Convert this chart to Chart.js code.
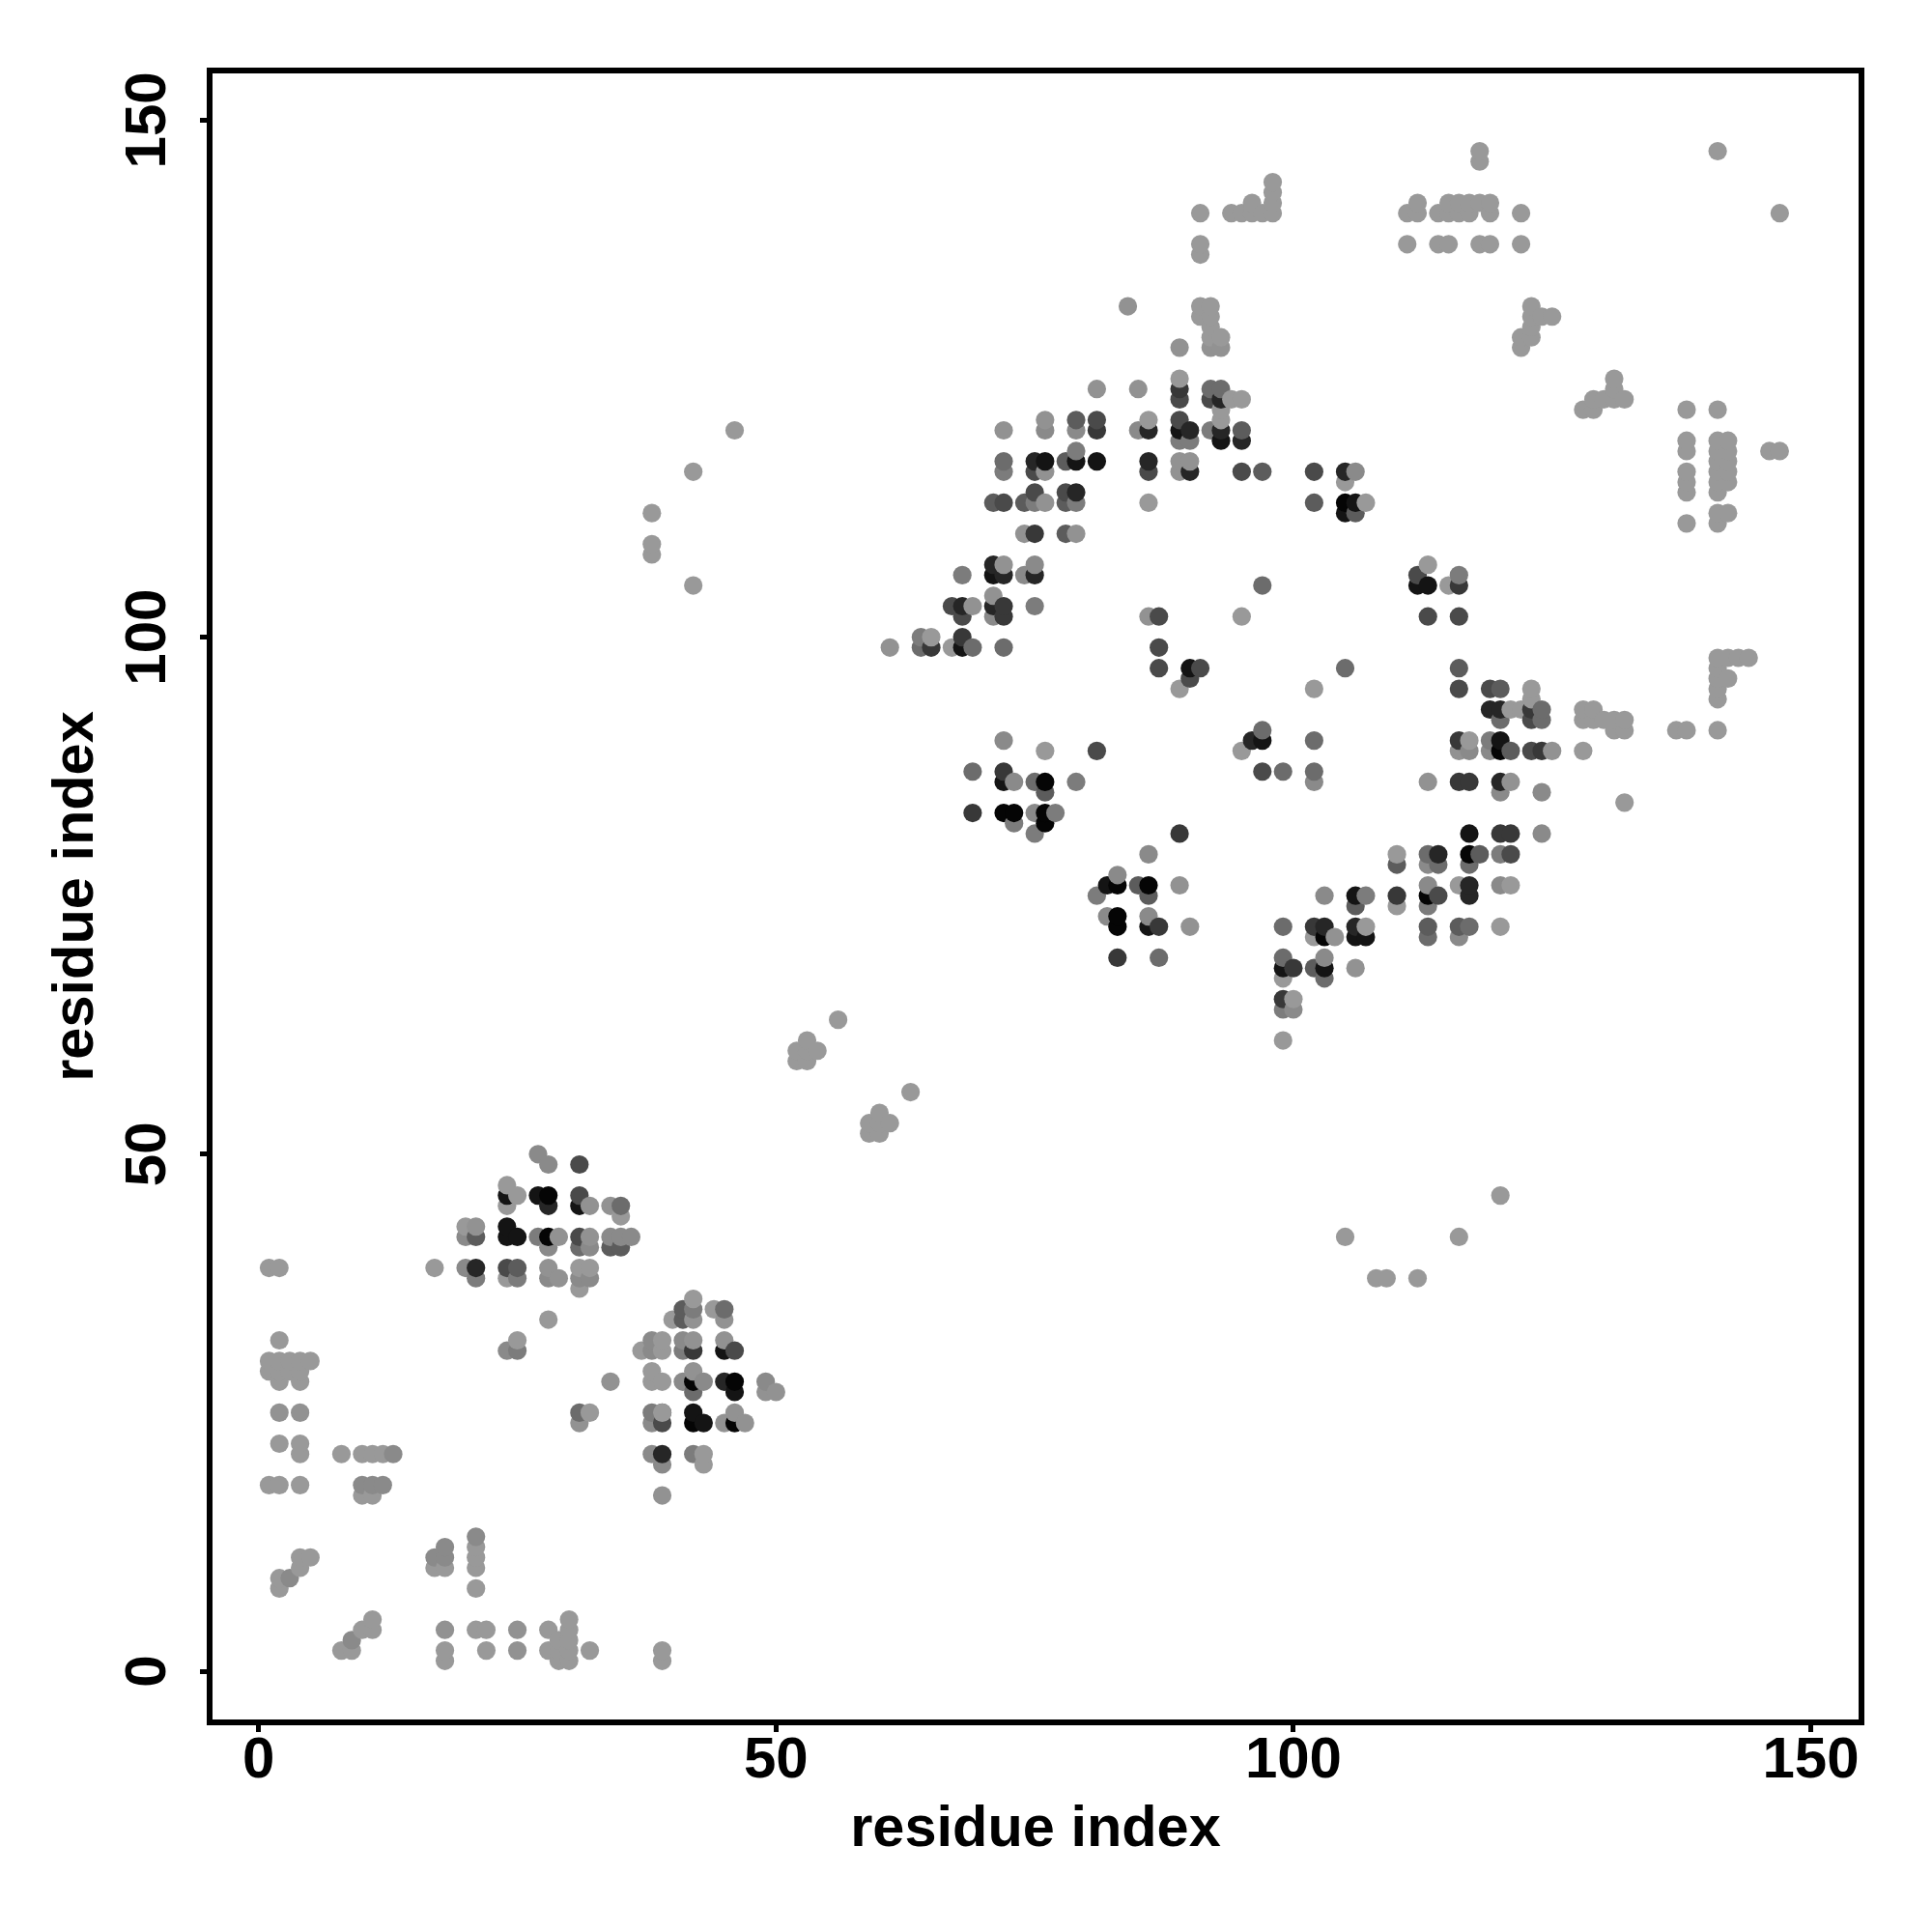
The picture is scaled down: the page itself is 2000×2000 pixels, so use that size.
<!DOCTYPE html>
<html><head><meta charset="utf-8">
<script src="https://cdn.jsdelivr.net/npm/chart.js@4"></script>
<style>html,body{margin:0;padding:0;background:#fff}canvas{display:block}</style>
</head><body><canvas id="c" width="2000" height="2000"></canvas>
<script>
const axisTicks=[0,50,100,150];
const axisTitle="residue index";
const shades=["#050505","#141414","#262626","#383838","#4a4a4a","#5c5c5c","#6c6c6c","#7c7c7c","#8a8a8a","#929292","#999999"];
const level0=[[28,42],[46,28],[42,28],[86,76],[105,113],[113,75],[117,79],[103,71],[72,83],[73,83],[76,83],[76,82],[83,76],[83,73],[83,72],[46,24],[28,46],[42,24],[120,89],[76,86]];
const level1=[[24,46],[27,46],[31,45],[24,43],[24,42],[25,42],[45,31],[46,27],[42,25],[43,24],[68,99],[72,86],[82,76],[79,117],[81,117],[89,120],[105,112],[106,113],[86,72],[97,90],[120,90],[117,81],[106,75],[106,71],[107,71],[99,68],[103,68],[112,105],[113,105],[90,97],[76,117],[93,119],[71,106]];
const level2=[[21,39],[28,45],[39,21],[86,120],[90,120],[93,120],[95,119],[86,117],[90,116],[105,116],[93,123],[119,93],[120,93],[120,86],[103,72],[106,72],[114,79],[117,76],[117,75],[71,107],[75,117],[79,114],[71,103],[68,103],[75,106],[72,106],[96,90],[45,28]];
const level3=[[65,99],[68,100],[89,124],[72,102],[69,83],[72,87],[42,31],[81,120],[117,86],[116,90],[123,93],[124,89],[120,81],[121,81],[110,75],[100,68],[102,72],[83,69],[87,72],[116,105],[72,103],[75,110],[89,81],[116,86],[99,65]];
const level4=[[24,39],[31,46],[31,42],[39,24],[81,121],[68,102],[89,123],[86,116],[92,123],[95,116],[102,116],[81,89],[46,31],[31,49],[114,75],[87,97],[91,97],[90,96],[87,102],[116,95],[119,95],[123,92],[123,89],[121,79],[89,121],[72,113],[75,114],[78,114],[75,116],[97,87],[112,106],[116,102],[113,102],[67,103],[87,99]];
const level5=[[21,42],[25,39],[35,41],[34,41],[41,34],[41,35],[79,121],[106,112],[97,116],[95,120],[116,97],[86,75],[76,85],[120,95],[113,72],[102,68],[118,79],[110,78],[106,74],[71,113],[74,113],[78,110],[78,113],[78,117],[116,72],[121,89],[102,113],[85,76],[39,25]];
const level6=[[35,45],[45,35],[31,41],[113,71],[92,124],[93,124],[105,97],[99,87],[97,91],[102,90],[102,87],[124,93],[124,92],[120,92],[97,105],[75,86],[114,78],[117,72],[42,27],[69,99],[72,99],[64,99],[103,67],[99,69],[117,78],[113,79],[99,72],[69,87],[87,69],[72,117],[31,25]];
const level7=[[27,42],[25,38],[25,31],[41,31],[42,35],[38,25],[42,21],[72,116],[73,82],[92,120],[89,119],[90,119],[79,118],[75,113],[79,113],[68,106],[75,103],[119,90],[107,75],[99,64],[77,83],[64,100],[113,74],[79,86],[81,75],[75,81],[120,79],[21,38],[116,106]];
const level8=[[20,39],[28,41],[27,50],[28,49],[34,42],[35,42],[36,42],[32,38],[31,38],[28,38],[32,41],[38,32],[38,31],[41,32],[41,28],[43,28],[49,28],[38,24],[39,20],[38,21],[73,86],[79,120],[85,120],[120,85],[124,85],[124,81],[113,76],[103,75],[83,77],[86,79],[82,73],[86,73],[103,69],[120,76],[116,71],[119,89],[117,89],[106,116],[75,107],[74,106],[71,102],[76,120],[13,21],[10,18],[11,18],[12,18],[3,9],[9,3],[21,13],[17,11],[18,11],[18,12],[72,90],[75,83],[102,86],[100,64],[24,31],[20,42],[113,78]];
const level9=[[28,39],[42,32],[45,32],[50,27],[49,27],[39,17],[42,29],[46,25],[45,24],[47,24],[42,34],[45,34],[61,99],[72,120],[81,124],[85,124],[84,132],[89,128],[92,128],[93,128],[89,117],[90,117],[89,116],[86,102],[90,72],[104,71],[106,68],[121,86],[125,89],[116,89],[113,86],[89,76],[76,121],[2,25],[4,25],[18,4],[25,4],[25,2],[29,38],[29,42],[21,43],[34,28],[31,24],[32,45],[34,45],[32,42],[76,113],[76,116],[74,110],[79,110],[71,104],[69,103],[72,107]];
const level10=[[1,39],[2,39],[2,32],[1,30],[2,30],[3,30],[4,30],[5,30],[1,29],[2,29],[3,29],[4,29],[2,28],[4,28],[2,22],[4,22],[4,21],[8,21],[10,21],[11,21],[12,21],[1,18],[2,18],[4,18],[10,17],[11,17],[4,11],[5,11],[4,10],[2,9],[2,8],[17,10],[18,10],[21,8],[21,10],[21,11],[21,12],[8,2],[9,2],[10,4],[11,4],[11,5],[18,1],[18,2],[22,2],[22,4],[21,4],[28,4],[28,2],[29,1],[29,2],[29,3],[30,1],[30,2],[30,3],[30,4],[30,5],[32,2],[39,1],[39,2],[17,39],[38,112],[38,109],[38,108],[42,116],[42,105],[46,120],[25,32],[28,34],[52,60],[52,59],[53,61],[53,60],[53,59],[54,60],[56,63],[63,56],[60,54],[59,53],[60,53],[61,53],[59,52],[60,52],[105,42],[116,42],[120,46],[108,38],[109,38],[112,38],[24,47],[25,46],[24,45],[20,43],[24,38],[44,35],[42,36],[40,34],[39,32],[37,31],[39,31],[38,29],[38,28],[39,28],[39,25],[31,39],[32,39],[31,37],[35,44],[43,21],[43,20],[65,100],[67,99],[76,89],[89,95],[95,102],[102,95],[91,132],[92,132],[91,131],[92,131],[92,130],[92,129],[93,129],[89,125],[94,123],[95,123],[93,122],[93,121],[86,121],[86,113],[105,115],[107,113],[91,141],[91,138],[91,137],[94,141],[95,141],[96,141],[97,141],[98,141],[96,142],[98,142],[98,143],[98,144],[111,141],[112,141],[112,142],[114,141],[115,141],[116,141],[115,142],[116,142],[117,142],[118,142],[119,142],[117,141],[119,141],[122,141],[111,138],[114,138],[115,138],[118,138],[119,138],[122,138],[118,147],[118,146],[141,147],[147,141],[123,132],[123,131],[124,131],[125,131],[122,129],[123,129],[122,128],[123,130],[128,122],[129,122],[129,123],[130,123],[131,123],[132,123],[131,125],[131,124],[138,122],[141,122],[138,119],[138,118],[141,119],[142,119],[141,118],[142,118],[141,117],[142,117],[138,116],[138,115],[141,116],[142,116],[141,115],[142,115],[141,114],[138,114],[138,111],[141,111],[141,112],[142,112],[146,118],[147,118],[141,98],[142,98],[143,98],[144,98],[141,97],[141,96],[142,96],[141,95],[141,94],[137,91],[138,91],[141,91],[128,93],[129,93],[128,92],[129,92],[130,92],[131,92],[132,92],[131,91],[132,91],[128,89],[132,84],[95,89],[113,107],[115,105],[123,95],[123,94],[121,93],[122,93],[117,90],[110,79],[110,74],[116,76],[121,76],[100,65],[99,67],[99,61],[120,72],[102,71],[107,72],[32,25]];
const groups=[level0,level1,level2,level3,level4,level5,level6,level7,level8,level9,level10];
const points=[];
groups.forEach((g,i)=>g.forEach(p=>points.push({x:p[0],y:p[1],c:shades[i]})));
points.sort((a,b)=>a.x-b.x||a.y-b.y);
const frame={id:"frame",afterDatasetsDraw(ch){const a=ch.chartArea,x=ch.ctx;x.save();x.strokeStyle="#000";x.lineWidth=6;x.strokeRect(a.left,a.top,a.right-a.left,a.bottom-a.top);x.restore();}};
const titleFont={family:"'Liberation Sans'",size:59.5,weight:"bold"};
const tickFont={family:"'Liberation Sans'",size:60,weight:"bold"};
new Chart(document.getElementById("c"),{type:"scatter",
data:{datasets:[{data:points.map(p=>({x:p.x,y:p.y})),backgroundColor:points.map(p=>p.c),pointRadius:9.6,pointBorderWidth:0,showLine:false,clip:false}]},
options:{responsive:false,animation:false,devicePixelRatio:1,layout:{padding:{top:73,right:73,left:0,bottom:0}},
plugins:{legend:{display:false},tooltip:{enabled:false},title:{display:false}},
scales:{
x:{type:"linear",min:-4.74,max:154.9,afterBuildTicks(s){s.ticks=axisTicks.map(v=>({value:v}));},afterFit(s){s.height=217;},
 grid:{drawOnChartArea:false,drawTicks:true,tickLength:10,tickWidth:5,tickColor:"#000"},border:{display:false},
 ticks:{color:"#000",font:tickFont,padding:-6,maxRotation:0,autoSkip:false,callback:v=>String(v)},
 title:{display:true,text:axisTitle,color:"#000",font:titleFont,padding:{top:0,bottom:70}}},
y:{type:"linear",min:-4.95,max:154.8,afterBuildTicks(s){s.ticks=axisTicks.map(v=>({value:v}));},afterFit(s){s.width=217;},
 grid:{drawOnChartArea:false,drawTicks:true,tickLength:10,tickWidth:5,tickColor:"#000"},border:{display:false},
 ticks:{color:"#000",font:tickFont,padding:2.5,minRotation:90,maxRotation:90,crossAlign:"center",autoSkip:false,callback:v=>String(v)},
 title:{display:true,text:axisTitle,color:"#000",font:titleFont,padding:{top:43.5,bottom:0}}}
}},plugins:[frame]});
</script></body></html>
